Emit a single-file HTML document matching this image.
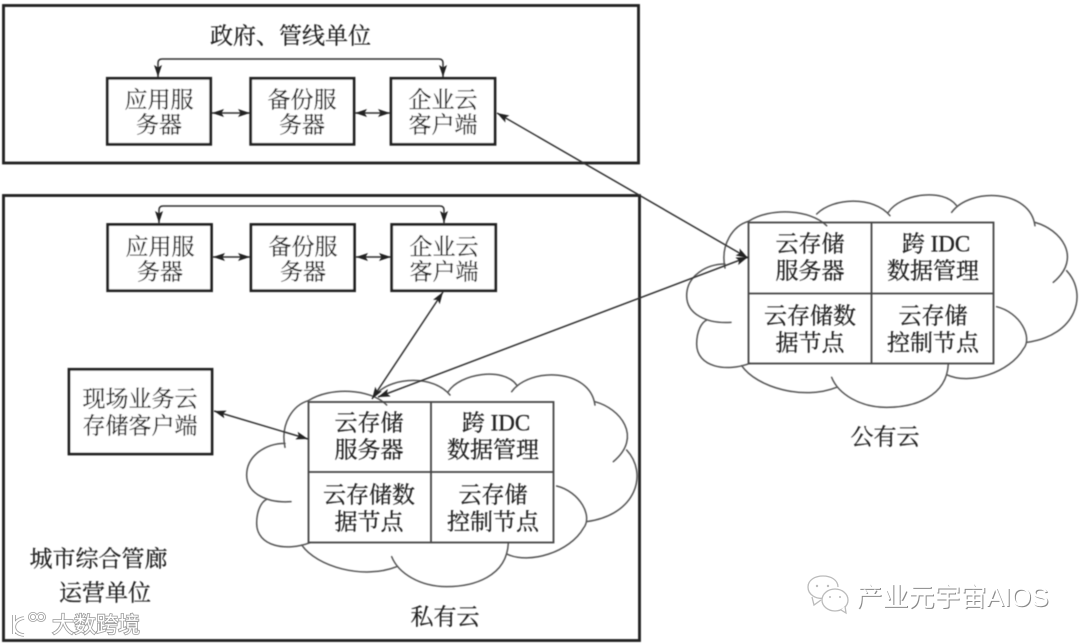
<!DOCTYPE html>
<html lang="zh">
<head>
<meta charset="utf-8">
<title>云存储架构图</title>
<style>
html,body{margin:0;padding:0;background:#fff;width:1080px;height:644px;overflow:hidden}
svg{display:block}
.t{font-family:"Liberation Serif","Noto Serif CJK SC",serif;font-size:23px;fill:#222;stroke:#222;stroke-width:.25;text-anchor:middle;dominant-baseline:central}
.box{fill:#fff;stroke:#222;stroke-width:2.8}
.outer{fill:none;stroke:#222;stroke-width:2.8}
.ln{fill:none;stroke:#333;stroke-width:1.5}
.grid{fill:none;stroke:#444;stroke-width:1.8}
.cl{fill:none;stroke:#555;stroke-width:4.5;stroke-linecap:round}
.wm{font-family:"Liberation Sans","Noto Sans CJK SC",sans-serif;text-anchor:start;dominant-baseline:central}
</style>
</head>
<body>
<svg width="1080" height="644" viewBox="0 0 1080 644" xmlns="http://www.w3.org/2000/svg">
<defs>
<filter id="b" x="-5%" y="-5%" width="110%" height="110%"><feGaussianBlur stdDeviation="0.55"/></filter>
<filter id="s" x="-5%" y="-5%" width="110%" height="110%"><feGaussianBlur stdDeviation="0.35"/></filter>
<marker id="a" viewBox="0 0 12 8" refX="12" refY="4" markerWidth="12" markerHeight="8" markerUnits="userSpaceOnUse" orient="auto-start-reverse">
<path d="M0 0L12 4L0 8L2.5 4Z" fill="#222"/>
</marker>
<g id="cloud">
<path class="cl" d="M165 262C150 190 190 135 235 122C300 80 420 85 470 135"/>
<path class="cl" d="M440 100C490 50 610 45 660 105"/>
<path class="cl" d="M655 95C690 40 820 20 860 75"/>
<path class="cl" d="M845 95C900 20 1080 25 1095 135"/>
<path class="cl" d="M1095 125C1170 145 1240 230 1150 305"/>
<path class="cl" d="M1190 270C1255 340 1220 465 1070 485"/>
<path class="cl" d="M980 378C1050 395 1090 470 1060 505C1020 575 900 615 830 582"/>
<path class="cl" d="M835 550C830 650 730 680 650 680C570 680 505 640 485 590"/>
<path class="cl" d="M500 620C400 660 260 620 215 555"/>
<path class="cl" d="M240 548C170 575 80 560 80 490C80 450 95 425 110 418"/>
<path class="cl" d="M183 425C110 430 50 400 50 345C50 285 110 250 165 250"/>
</g>
</defs>

<g filter="url(#b)">
<rect class="outer" x="3.5" y="5.5" width="635" height="157.5"/>
<rect class="outer" x="3.5" y="195.5" width="636" height="445"/>

<use href="#cloud" transform="translate(670 180.7) scale(.3333)"/>
<use href="#cloud" transform="translate(230 360) scale(.3333)"/>

<!-- boxes -->
<rect class="box" x="107.3" y="78.3" width="103.4" height="66"/>
<rect class="box" x="250.7" y="78.3" width="103.3" height="66"/>
<rect class="box" x="391" y="78.3" width="104" height="66"/>
<rect class="box" x="107.7" y="224.5" width="103.8" height="66.2"/>
<rect class="box" x="251" y="224.5" width="103.5" height="66.2"/>
<rect class="box" x="391.7" y="224.5" width="104" height="66.2"/>
<rect class="box" x="69" y="369.3" width="143" height="84.7"/>

<!-- grids -->
<g class="grid">
<rect x="748.5" y="222.5" width="245" height="141"/>
<path d="M871.5 222V364M748 293.5H994"/>
<rect x="308.5" y="402" width="245" height="140.5"/>
<path d="M431 402V543M308 472H554"/>
</g>

<!-- connectors -->
<path class="ln" marker-start="url(#a)" marker-end="url(#a)" d="M158 77V63Q158 59 162 59H439Q443 59 443 63V77"/>
<path class="ln" marker-start="url(#a)" marker-end="url(#a)" d="M159 223V210Q159 206 163 206H440Q444 206 444 210V223"/>
<path class="ln" marker-start="url(#a)" marker-end="url(#a)" d="M212 113H250"/>
<path class="ln" marker-start="url(#a)" marker-end="url(#a)" d="M355 113H390"/>
<path class="ln" marker-start="url(#a)" marker-end="url(#a)" d="M213 257H250"/>
<path class="ln" marker-start="url(#a)" marker-end="url(#a)" d="M356 257H391"/>
<path class="ln" marker-start="url(#a)" marker-end="url(#a)" d="M497 113L748 258"/>
<path class="ln" marker-start="url(#a)" marker-end="url(#a)" d="M748 257L378 397"/>
<path class="ln" marker-start="url(#a)" marker-end="url(#a)" d="M443 292L372 399"/>
<path class="ln" marker-start="url(#a)" marker-end="url(#a)" d="M214 411L308 439"/>

<!-- labels -->
<text class="t" x="290.5" y="36">政府、管线单位</text>
<text class="t" x="159" y="100">应用服</text><text class="t" x="159" y="125">务器</text>
<text class="t" x="302" y="100">备份服</text><text class="t" x="302" y="125">务器</text>
<text class="t" x="443" y="100">企业云</text><text class="t" x="443" y="125">客户端</text>
<text class="t" x="160" y="247">应用服</text><text class="t" x="160" y="272">务器</text>
<text class="t" x="303" y="247">备份服</text><text class="t" x="303" y="272">务器</text>
<text class="t" x="444" y="247">企业云</text><text class="t" x="444" y="272">客户端</text>
<text class="t" x="140" y="399">现场业务云</text><text class="t" x="140" y="426">存储客户端</text>

<text class="t" x="810" y="244">云存储</text><text class="t" x="810" y="271">服务器</text>
<text class="t" x="936" y="244">跨 IDC</text><text class="t" x="933" y="271">数据管理</text>
<text class="t" x="810" y="316">云存储数</text><text class="t" x="810" y="343">据节点</text>
<text class="t" x="933" y="316">云存储</text><text class="t" x="933" y="343">控制节点</text>

<text class="t" x="369" y="423">云存储</text><text class="t" x="369" y="450">服务器</text>
<text class="t" x="496" y="423">跨 IDC</text><text class="t" x="493" y="450">数据管理</text>
<text class="t" x="369" y="495">云存储数</text><text class="t" x="369" y="522">据节点</text>
<text class="t" x="493" y="495">云存储</text><text class="t" x="493" y="522">控制节点</text>

<text class="t" x="885" y="437">公有云</text>
<text class="t" x="445" y="617">私有云</text>
<text class="t" x="98.5" y="559">城市综合管廊</text>
<text class="t" x="105" y="593">运营单位</text>
</g>

<!-- watermarks -->
<g filter="url(#s)">
<g fill="none" stroke="#bbb" stroke-width="1.3">
<path d="M826 598C815 600 808 594 808 587C808 580 815 576 823 576C831 576 838 580 838 587"/>
<path d="M812 597L814 605L821 600"/>
<ellipse cx="835" cy="600" rx="13" ry="11" fill="#fff"/>
<path d="M841 610L846 613L845 606" fill="#fff"/>
</g>
<g fill="#bbb"><circle cx="817" cy="586" r="1.2"/><circle cx="828" cy="586" r="1.2"/><circle cx="830" cy="597" r="1"/><circle cx="840" cy="597" r="1"/></g>
<text class="wm" x="857.5" y="598" font-size="26" fill="#888">产业元宇宙AIOS</text>
<text class="wm" x="856.5" y="597" font-size="26" fill="#fff">产业元宇宙AIOS</text>

<g fill="none" stroke="#999" stroke-width="3.6">
<path d="M24 618C11 620 11 634 24 635"/>
<path d="M14 615V634"/>
<circle cx="33" cy="617" r="3.6" stroke-width="2.8"/><circle cx="41" cy="617" r="3.6" stroke-width="2.8"/>
</g>
<g fill="none" stroke="#fff" stroke-width="2">
<path d="M24 618C11 620 11 634 24 635"/>
<path d="M14 615V634"/>
<circle cx="33" cy="617" r="3.6" stroke-width="1.2"/><circle cx="41" cy="617" r="3.6" stroke-width="1.2"/>
</g>
<text class="wm" x="52" y="625" font-size="22" fill="#fff" stroke="#999" stroke-width="1.6" style="paint-order:stroke">大数跨境</text>
</g>
</svg>
</body>
</html>
